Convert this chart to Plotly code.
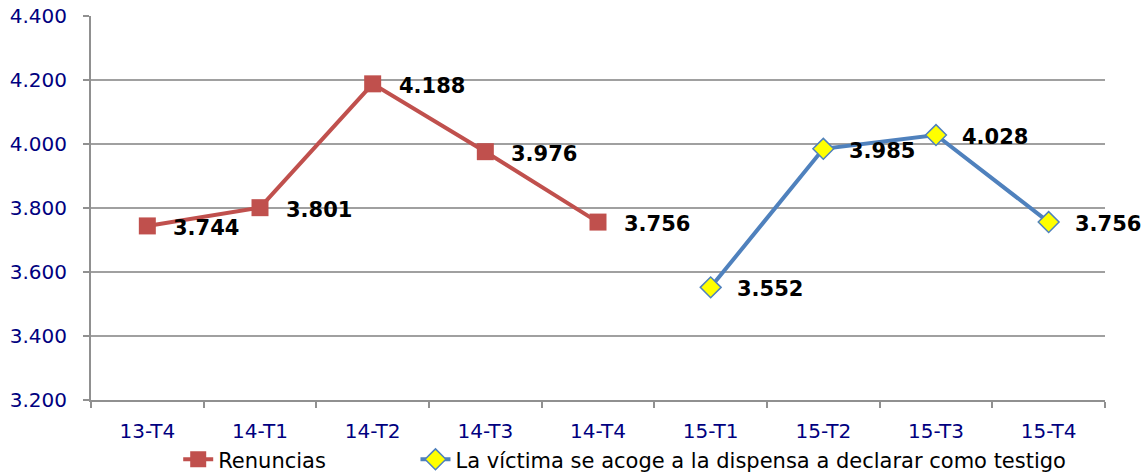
import plotly.graph_objects as go

categories = ["13-T4", "14-T1", "14-T2", "14-T3", "14-T4", "15-T1", "15-T2", "15-T3", "15-T4"]
renuncias_x = ["13-T4", "14-T1", "14-T2", "14-T3", "14-T4"]
renuncias = [3744, 3801, 4188, 3976, 3756]
dispensa_x = ["15-T1", "15-T2", "15-T3", "15-T4"]
dispensa = [3552, 3985, 4028, 3756]
y_ticks = [3200, 3400, 3600, 3800, 4000, 4200, 4400]

FONT = "DejaVu Sans, Verdana, sans-serif"

def fmt(v):
    return f"{v:,}".replace(",", ".")

fig = go.Figure()
fig.add_trace(go.Scatter(
    x=renuncias_x, y=renuncias, name="Renuncias", mode="lines+markers",
    line=dict(color="#C0504D", width=4),
    marker=dict(symbol="square", size=17, color="#C0504D"),
    legend="legend",
))
fig.add_trace(go.Scatter(
    x=dispensa_x, y=dispensa, name="La víctima se acoge a la dispensa a declarar como testigo",
    mode="lines+markers",
    line=dict(color="#4F81BD", width=4),
    marker=dict(symbol="diamond", size=16, color="#FFFF00", line=dict(color="#4F81BD", width=1.5)),
    legend="legend2",
))

for xs, ys in ((renuncias_x, renuncias), (dispensa_x, dispensa)):
    for x, y in zip(xs, ys):
        fig.add_annotation(x=x, y=y, text=fmt(y), showarrow=False, xanchor="left",
                           yanchor="middle", xshift=24, yshift=-2,
                           font=dict(family=FONT, size=21, color="#000000", weight="bold"))

legend_common = dict(orientation="h", xanchor="left", y=-0.102, yanchor="top",
                     font=dict(family=FONT, size=21, color="#000000"),
                     bgcolor="rgba(0,0,0,0)")

fig.update_layout(
    width=1146, height=475,
    margin=dict(l=91, r=41, t=16, b=75, autoexpand=False),
    paper_bgcolor="white", plot_bgcolor="white",
    separators=",.",
    font=dict(family=FONT, size=20, color="#000080"),
    showlegend=True,
    legend=dict(x=0.086, **legend_common),
    legend2=dict(x=0.320, **legend_common),
    xaxis=dict(
        type="category", categoryorder="array", categoryarray=categories,
        range=[-0.5, len(categories) - 0.5],
        tickmode="array", tickvals=categories,
        tickson="boundaries", ticks="outside", ticklen=6, tickcolor="#909090", tickwidth=2,
        showline=True, linecolor="#909090", linewidth=2,
        showgrid=False, tickfont=dict(family=FONT, size=20, color="#000080"),
        ticklabelstandoff=12,
    ),
    yaxis=dict(
        range=[3200, 4400], tickvals=y_ticks, tickformat=",d",
        ticks="outside", ticklen=6, tickcolor="#909090", tickwidth=2,
        showline=True, linecolor="#909090", linewidth=2,
        showgrid=True, gridcolor="#A0A0A0", gridwidth=2,
        tickfont=dict(family=FONT, size=20, color="#000080"),
        zeroline=False, ticklabelstandoff=12,
    ),
)

fig.write_html("out.html", config={"displayModeBar": False},
               post_script="document.body.style.margin='0';")
